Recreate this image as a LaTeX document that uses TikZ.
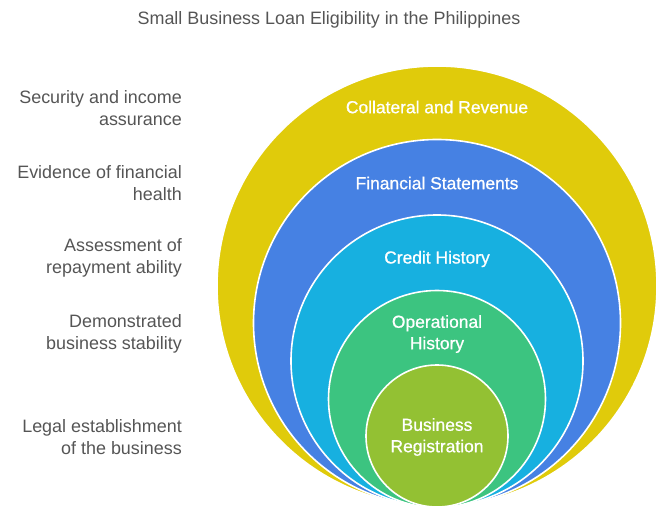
\documentclass[tikz,border=0pt]{standalone}
\usepackage{fontspec}
\setmainfont{Liberation Sans}
\newfontfamily\mediumfont[FakeBold=0.8]{Liberation Sans}
\usetikzlibrary{positioning}

\definecolor{ringyellow}{HTML}{E0CB0B}
\definecolor{ringblue}{HTML}{4681E3}
\definecolor{ringcyan}{HTML}{17B0E0}
\definecolor{ringgreen}{HTML}{3CC480}
\definecolor{ringolive}{HTML}{93C133}
\definecolor{labelgray}{HTML}{555555}

\begin{document}
\begin{tikzpicture}[x=1bp, y=-1bp,
    ring/.style={circle, draw=white, line width=1.6bp, inner sep=0pt},
    inlabel/.style={text=white, align=center, inner sep=0pt, font=\mediumfont\fontsize{17.5}{21.5}\selectfont},
    sidelabel/.style={text=labelgray, align=right, anchor=east, inner sep=0pt, font=\fontsize{18}{21.5}\selectfont}]
        \useasboundingbox (0,0) rectangle (671,520);

        \node[text=labelgray, font=\fontsize{18}{20}\selectfont] (title) at (329,20) {Small Business Loan Eligibility in the Philippines};

        \node[ring, fill=ringyellow, minimum size=440bp] (collateral) at (437,286) {};
        \node[ring, fill=ringblue,   minimum size=367bp] (financial)  at (437,323) {};
        \node[ring, fill=ringcyan,   minimum size=292bp] (credit)     at (437,361) {};
        \node[ring, fill=ringgreen,  minimum size=217bp] (operation)  at (437,399) {};
        \node[ring, fill=ringolive,  minimum size=142bp] (registry)   at (437,436) {};

        \node[inlabel] (collateraltxt) at (437,107) {Collateral and Revenue};
        \node[inlabel] (financialtxt)  at (437,183) {Financial Statements};
        \node[inlabel] (credittxt)     at (437,259) {Credit History};
        \node[inlabel] (operationtxt)  at (437,334) {Operational\\History};
        \node[inlabel] (registrytxt)   at (437,437) {Business\\Registration};

        \node[sidelabel] (assurance) at (182,108) {Security and income\\assurance};
        \node[sidelabel] (health)    at (182,183) {Evidence of financial\\health};
        \node[sidelabel] (repayment) at (182,258) {Assessment of\\repayment ability};
        \node[sidelabel] (stability) at (182,334) {Demonstrated\\business stability};
        \node[sidelabel] (legal)     at (182,437) {Legal establishment\\of the business};
      \end{tikzpicture}
\end{document}
